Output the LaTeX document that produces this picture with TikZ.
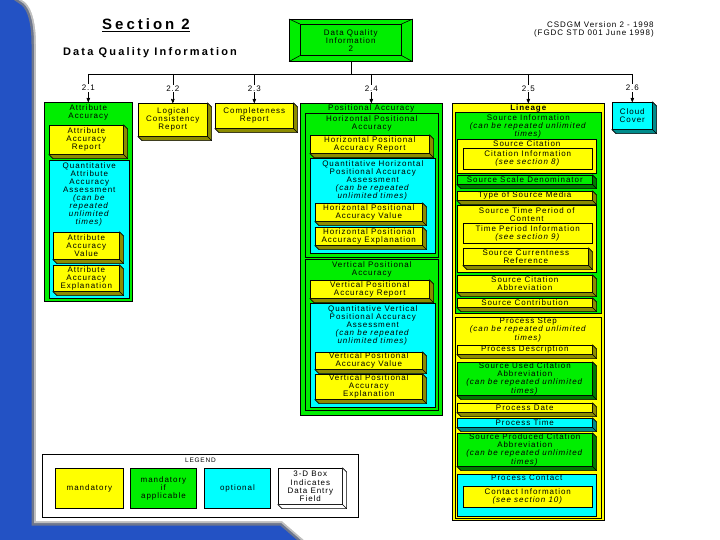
\documentclass[tikz,border=0pt]{standalone}
\usepackage{fontspec}
\setmainfont{Liberation Sans}
\newfontfamily\boxfam[LetterSpace=12]{Liberation Sans}
\newfontfamily\headfam[LetterSpace=20]{Liberation Sans}
\newcommand\boxfont{\boxfam\fontsize{8}{8.1}\selectfont}
\usetikzlibrary{arrows,calc}
\definecolor{bgblue}{HTML}{2352C4}
\definecolor{yel}{HTML}{FFFF00}
\definecolor{yelsh}{HTML}{8C8C00}
\definecolor{grn}{HTML}{00EE00}
\definecolor{grnsh}{HTML}{007A00}
\definecolor{cyn}{HTML}{00FFFF}
\definecolor{cynsh}{HTML}{008C8C}
\begin{document}
\begin{tikzpicture}[x=1pt,y=-1pt,>=stealth',line width=0.6pt,
  box/.style={draw,align=center,inner sep=0pt,font=\boxfont,anchor=north west},
  ybox/.style={box,fill=yel},
  gbox/.style={box,fill=grn},
  cbox/.style={box,fill=cyn},
  wbox/.style={box,fill=white},
  wh/.style 2 args={minimum width=#1pt,minimum height=#2pt},
  title/.style={anchor=north,align=center,inner sep=1pt,font=\boxfont},
  lbl/.style={fill=white,inner sep=0.8pt,font=\boxfont}]

 \useasboundingbox (0,0) rectangle (720,540);

 % slide background
 \fill[bgblue] (0,0) rectangle (720,540);
 \fill[white,preaction={draw=gray!80!bgblue,line width=9pt},preaction={draw=gray!50,line width=4pt}]
   (22,0) .. controls (30,4) and (36,18) .. (36,44) -- (36,521) -- (282,521) -- (304,540)
   -- (720,540) -- (720,0) -- cycle;

 % header
 \node[font=\headfam\bfseries\fontsize{15}{16}\selectfont] (sec) at (146,25) {\underline{Section 2}};
 \node[font=\headfam\bfseries\fontsize{11}{12}\selectfont] (dqit) at (150,53) {Data Quality Information};
 \node[anchor=north east,align=right,inner sep=0pt,font=\boxfont] (std) at (654,21)
   {CSDGM Version 2 - 1998\\(FGDC STD 001 June 1998)};

 \node[gbox,wh={123}{42}] (dqi) at (289,19) {Data Quality\\Information\\2};
 \draw ([shift={(11,5)}]dqi.north west) rectangle ([shift={(-11,-6)}]dqi.south east);
 \draw (dqi.north west) -- ++(11,5) (dqi.north east) -- ++(-11,5)
       (dqi.south west) -- ++(11,-6) (dqi.south east) -- ++(-11,-6);

 % 2.1
 \node[gbox,wh={88}{199}] (aa) at (44,102) {};
 \node[title] (aat) at ([shift={(0,1)}]aa.north) {Attribute\\Accuracy};
 \node[ybox,wh={74}{29}] (aar) at (49,125) {Attribute\\Accuracy\\Report};
 \node[cbox,wh={80}{138}] (qaa) at (49,160) {};
 \node[title] (qaat) at ([shift={(0,1)}]qaa.north)
   {Quantitative\\Attribute\\Accuracy\\Assessment\\\textit{(can be}\\\textit{repeated}\\\textit{unlimited}\\\textit{times)}};
 \node[ybox,wh={66}{27}] (aav) at (53,232) {Attribute\\Accuracy\\Value};
 \node[ybox,wh={66}{26}] (aae) at (53,265) {Attribute\\Accuracy\\Explanation};

 % 2.2 and 2.3
 \node[ybox,wh={69}{33}] (lcr) at (138,103) {Logical\\Consistency\\Report};
 \node[ybox,wh={78}{25}] (cr) at (215,103) {Completeness\\Report};

 % 2.4
 \node[gbox,wh={142}{312}] (pa) at (300,103) {};
 \node[title] (pat) at ([shift={(0,0)}]pa.north) {Positional Accuracy};
 \node[gbox,wh={133}{144}] (hpa) at (305,113) {};
 \node[title] (hpat) at ([shift={(0,1)}]hpa.north) {Horizontal Positional\\Accuracy};
 \node[ybox,wh={119}{18}] (hpar) at (310,135) {Horizontal Positional\\Accuracy Report};
 \node[cbox,wh={125}{95}] (qhpa) at (310,158) {};
 \node[title] (qhpat) at ([shift={(0,1)}]qhpa.north)
   {Quantitative Horizontal\\Positional Accuracy\\Assessment\\\textit{(can be repeated}\\\textit{unlimited times)}};
 \node[ybox,wh={107}{18}] (hpav) at (315,203) {Horizontal Positional\\Accuracy Value};
 \node[ybox,wh={107}{18}] (hpae) at (315,227) {Horizontal Positional\\Accuracy Explanation};
 \node[gbox,wh={133}{151}] (vpa) at (305,259) {};
 \node[title] (vpat) at ([shift={(0,1)}]vpa.north) {Vertical Positional\\Accuracy};
 \node[ybox,wh={119}{18}] (vpar) at (310,280) {Vertical Positional\\Accuracy Report};
 \node[cbox,wh={125}{104}] (qvpa) at (310,303) {};
 \node[title] (qvpat) at ([shift={(0,1)}]qvpa.north)
   {Quantitative Vertical\\Positional Accuracy\\Assessment\\\textit{(can be repeated}\\\textit{unlimited times)}};
 \node[ybox,wh={107}{17}] (vpav) at (315,352) {Vertical Positional\\Accuracy Value};
 \node[ybox,wh={107}{25}] (vpae) at (315,374) {Vertical Positional\\Accuracy\\Explanation};

 % 2.5
 \node[ybox,wh={152}{417}] (lin) at (452,103) {};
 \node[title] (lint) at ([shift={(0,0)}]lin.north) {\bfseries Lineage};
 \node[gbox,wh={146}{201}] (si) at (455,112) {};
 \node[title] (sit) at ([shift={(0,1)}]si.north)
   {Source Information\\\textit{(can be repeated unlimited}\\\textit{times)}};
 \node[ybox,wh={139}{34}] (sc) at (457,139) {};
 \node[title] (sct) at ([shift={(0,0)}]sc.north) {Source Citation};
 \node[ybox,wh={129}{21}] (ci) at (463,148) {Citation Information\\\textit{(see section 8)}};
 \node[gbox,wh={135}{9}] (ssd) at (457,175) {Source Scale Denominator};
 \node[ybox,wh={135}{9}] (tsm) at (457,191) {Type of Source Media};
 \node[ybox,wh={139}{67}] (stp) at (457,205) {};
 \node[title] (stpt) at ([shift={(0,1)}]stp.north) {Source Time Period of\\Content};
 \node[ybox,wh={129}{20}] (tpi) at (463,223) {Time Period Information\\\textit{(see section 9)}};
 \node[ybox,wh={125}{17}] (scr) at (463,248) {Source Currentness\\Reference};
 \node[ybox,wh={135}{17}] (sca) at (457,275) {Source Citation\\Abbreviation};
 \node[ybox,wh={135}{9}] (scon) at (457,298) {Source Contribution};
 \node[ybox,wh={146}{201}] (ps) at (455,317) {};
 \node[title] (pst) at ([shift={(0,0)}]ps.north)
   {Process Step\\\textit{(can be repeated unlimited}\\\textit{times)}};
 \node[ybox,wh={135}{9}] (pd) at (457,345) {Process Description};
 \node[gbox,wh={135}{33}] (suca) at (457,362)
   {Source Used Citation\\Abbreviation\\\textit{(can be repeated unlimited}\\\textit{times)}};
 \node[ybox,wh={135}{9}] (pdate) at (457,403) {Process Date};
 \node[cbox,wh={135}{9}] (ptime) at (457,418) {Process Time};
 \node[gbox,wh={135}{33}] (spca) at (457,433)
   {Source Produced Citation\\Abbreviation\\\textit{(can be repeated unlimited}\\\textit{times)}};
 \node[cbox,wh={139}{42}] (pc) at (457,474) {};
 \node[title] (pct) at ([shift={(0,0)}]pc.north) {Process Contact};
 \node[ybox,wh={129}{21}] (coi) at (463,486) {Contact Information\\\textit{(see section 10)}};

 % 2.6
 \node[cbox,wh={40}{27}] (cc) at (612,102) {Cloud\\Cover};

 % legend
 \node[wbox,wh={316}{63},line width=0.9pt] (leg) at (42,454) {};
 \node[title,font=\boxfam\fontsize{6.5}{7}\selectfont] (legt) at ([shift={(0,3)}]leg.north) {LEGEND};
 \node[ybox,wh={68}{40},line width=0.9pt] (mand) at (55,468) {mandatory};
 \node[gbox,wh={66}{40},line width=0.9pt] (mia) at (130,468) {mandatory\\if\\applicable};
 \node[cbox,wh={66}{40},line width=0.9pt] (opt) at (204,468) {optional};
 \node[wbox,wh={64}{36}] (tdb) at (278,468) {3-D Box\\Indicates\\Data Entry\\Field};

 % 3-D edges
 \foreach \n/\s in {aar/yelsh,aav/yelsh,aae/yelsh,lcr/yelsh,cr/yelsh,hpar/yelsh,hpav/yelsh,
     hpae/yelsh,vpar/yelsh,vpav/yelsh,vpae/yelsh,ssd/grnsh,tsm/yelsh,scr/yelsh,sca/yelsh,
     scon/yelsh,pd/yelsh,suca/grnsh,pdate/yelsh,ptime/cynsh,spca/grnsh,cc/cynsh,tdb/white}
 {
   \filldraw[fill=\s] (\n.north east) -- ++(4,4) -- ([shift={(4,4)}]\n.south east)
     -- ([shift={(4,4)}]\n.south west) -- (\n.south west) -- (\n.south east) -- cycle;
   \draw (\n.south east) -- ++(4,4);
 }

 % connectors
 \coordinate (bus) at (0,74);
 \draw (dqi.south) -- (dqi.south |- bus);
 \draw (aa.north |- bus) -- (cc.north |- bus);
 \foreach \n/\l in {aa/2.1,lcr/2.2,cr/2.3,pa/2.4,lin/2.5,cc/2.6}
   \draw[->] (\n.north |- bus) -- node[lbl] {\l} (\n.north);

\end{tikzpicture}
\end{document}
